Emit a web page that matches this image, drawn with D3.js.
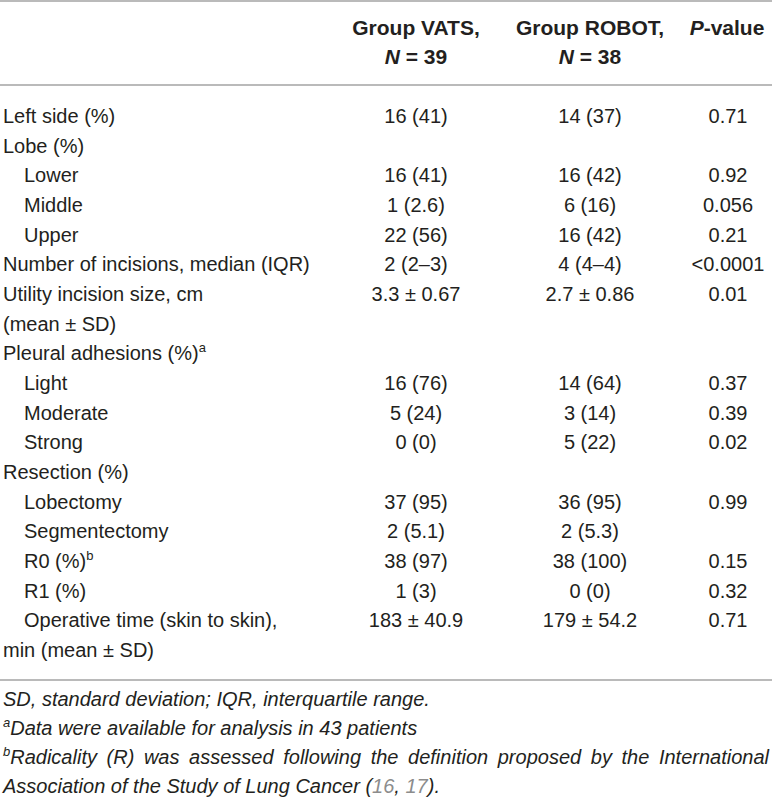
<!DOCTYPE html>
<html>
<head>
<meta charset="utf-8">
<script src="https://cdn.jsdelivr.net/npm/d3@7"></script>
<style>
  html, body { margin: 0; padding: 0; background: #fff; }
  #table text { font-family: "Liberation Sans", Arial, Helvetica, sans-serif; fill: #231f20; }
</style>
</head>
<body>
<div id="table"></div>
<script>
var headerCols = [["Group VATS,", "N = 39"], ["Group ROBOT,", "N = 38"], ["P-value", ""]];

var rowLabels = ["Left side (%)", "Lobe (%)", "Lower", "Middle", "Upper",
  "Number of incisions, median (IQR)", "Utility incision size, cm", "(mean \u00b1 SD)",
  "Pleural adhesions (%)", "Light", "Moderate", "Strong", "Resection (%)",
  "Lobectomy", "Segmentectomy", "R0 (%)", "R1 (%)", "Operative time (skin to skin),", "min (mean \u00b1 SD)"];
var rowIndent = [0, 0, 1, 1, 1, 0, 0, 0, 0, 1, 1, 1, 0, 1, 1, 1, 1, 1, 0];
var rowSup = ["", "", "", "", "", "", "", "", "a", "", "", "", "", "", "", "b", "", "", ""];

var vatsValues = ["16 (41)", "", "16 (41)", "1 (2.6)", "22 (56)", "2 (2\u20133)", "3.3 \u00b1 0.67", "",
  "", "16 (76)", "5 (24)", "0 (0)", "", "37 (95)", "2 (5.1)", "38 (97)", "1 (3)", "183 \u00b1 40.9", ""];
var robotValues = ["14 (37)", "", "16 (42)", "6 (16)", "16 (42)", "4 (4\u20134)", "2.7 \u00b1 0.86", "",
  "", "14 (64)", "3 (14)", "5 (22)", "", "36 (95)", "2 (5.3)", "38 (100)", "0 (0)", "179 \u00b1 54.2", ""];
var pValues = ["0.71", "", "0.92", "0.056", "0.21", "<0.0001", "0.01", "",
  "", "0.37", "0.39", "0.02", "", "0.99", "", "0.15", "0.32", "0.71", ""];

var footnotes = [
  [{t: "SD, standard deviation; IQR, interquartile range."}],
  [{t: "a", sup: true}, {t: "Data were available for analysis in 43 patients"}],
  [{t: "b", sup: true}, {t: "Radicality (R) was assessed following the definition proposed by the International"}],
  [{t: "Association of the Study of Lung Cancer ("}, {t: "16", link: true}, {t: ", "}, {t: "17", link: true}, {t: ")."}]
];
var justifyNote = [false, false, true, false];

var W = 772, H = 797;
var fs = 20;
var lineCol = "#a3a3a3";

var svg = d3.select("#table").append("svg")
  .attr("width", W)
  .attr("height", H);

// columns: label + three value columns (centred)
var colX = d3.scaleOrdinal()
  .domain(["vats", "robot", "p"])
  .range([416, 590, 728]);

// row baselines
var yRow = d3.scaleLinear()
  .domain([0, rowLabels.length - 1])
  .range([123, 657]);

var yHead = d3.scaleLinear().domain([0, 1]).range([35, 64]);
var yNote = d3.scaleLinear().domain([0, footnotes.length - 1]).range([706, 793]);

// rules
[1, 85, 680].forEach(function(y) {
  svg.append("line")
    .attr("x1", 0).attr("x2", W)
    .attr("y1", y).attr("y2", y)
    .attr("stroke", lineCol)
    .attr("stroke-width", 1.6);
});

// header
var keys = ["vats", "robot", "p"];
headerCols.forEach(function(h, i) {
  var t1 = svg.append("text")
    .attr("x", colX(keys[i]) + (i == 2 ? -1 : 0))
    .attr("y", yHead(0))
    .attr("text-anchor", "middle")
    .attr("font-size", 21)
    .attr("font-weight", "bold");
  if(h[0].indexOf("P-") == 0) {
    t1.append("tspan").attr("font-style", "italic").text("P");
    t1.append("tspan").text(h[0].slice(1));
  } else {
    t1.text(h[0]);
  }
  if(h[1]) {
    var t2 = svg.append("text")
      .attr("x", colX(keys[i]))
      .attr("y", yHead(1))
      .attr("text-anchor", "middle")
      .attr("font-size", 21)
      .attr("font-weight", "bold");
    t2.append("tspan").attr("font-style", "italic").text("N");
    t2.append("tspan").text(h[1].slice(1));
  }
});

// row labels
var lbl = svg.selectAll(".row-label")
  .data(rowLabels)
  .enter()
  .append("text")
  .attr("class", "row-label")
  .attr("x", function(d, i) { return rowIndent[i] ? 24 : 3; })
  .attr("y", function(d, i) { return yRow(i); })
  .attr("font-size", fs);

lbl.append("tspan").text(function(d) { return d; });
lbl.append("tspan")
  .attr("font-size", 13)
  .attr("dy", -8)
  .text(function(d, i) { return rowSup[i]; });

// value columns
var cols = {vats: vatsValues, robot: robotValues, p: pValues};
keys.forEach(function(k) {
  svg.selectAll(".val-" + k)
    .data(cols[k])
    .enter()
    .append("text")
    .attr("class", "val-" + k)
    .attr("x", colX(k))
    .attr("y", function(d, i) { return yRow(i); })
    .attr("text-anchor", "middle")
    .attr("font-size", fs)
    .text(function(d) { return d; });
});

// footnotes
footnotes.forEach(function(parts, i) {
  var t = svg.append("text")
    .attr("x", 3)
    .attr("y", yNote(i))
    .attr("font-size", fs)
    .attr("font-style", "italic");
  parts.forEach(function(p) {
    var s = t.append("tspan").text(p.t);
    if(p.sup) s.attr("font-size", 13).attr("dy", -8);
    else if(t.selectAll("tspan").size() == 2 && parts[0].sup) s.attr("dy", 8);
    if(p.link) s.style("fill", "#8c8c8c");
  });
  if(justifyNote[i]) { // stretch word spacing so the line fills the width
    var len = t.node().getComputedTextLength();
    var nsp = parts.map(function(p) { return p.t; }).join("").split(" ").length - 1;
    t.attr("word-spacing", (766 - len) / nsp);
  }
});
</script>
</body>
</html>
